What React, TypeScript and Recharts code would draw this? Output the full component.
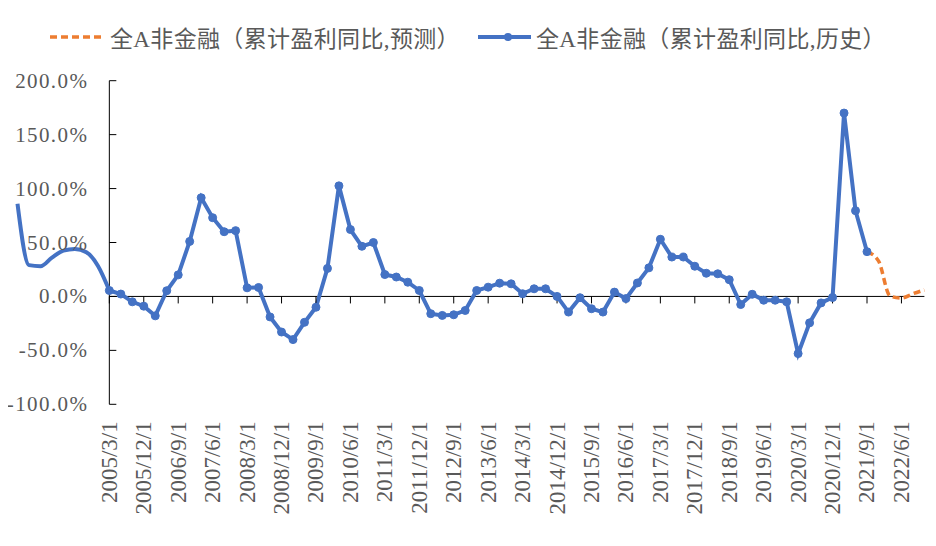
import { Legend, Line, LineChart, ReferenceDot, ReferenceLine, XAxis, YAxis } from 'recharts'

const quarters = [
  '2003/3/1', '2003/6/1', '2003/9/1', '2003/12/1',
  '2004/3/1', '2004/6/1', '2004/9/1', '2004/12/1',
  '2005/3/1', '2005/6/1', '2005/9/1', '2005/12/1',
  '2006/3/1', '2006/6/1', '2006/9/1', '2006/12/1',
  '2007/3/1', '2007/6/1', '2007/9/1', '2007/12/1',
  '2008/3/1', '2008/6/1', '2008/9/1', '2008/12/1',
  '2009/3/1', '2009/6/1', '2009/9/1', '2009/12/1',
  '2010/3/1', '2010/6/1', '2010/9/1', '2010/12/1',
  '2011/3/1', '2011/6/1', '2011/9/1', '2011/12/1',
  '2012/3/1', '2012/6/1', '2012/9/1', '2012/12/1',
  '2013/3/1', '2013/6/1', '2013/9/1', '2013/12/1',
  '2014/3/1', '2014/6/1', '2014/9/1', '2014/12/1',
  '2015/3/1', '2015/6/1', '2015/9/1', '2015/12/1',
  '2016/3/1', '2016/6/1', '2016/9/1', '2016/12/1',
  '2017/3/1', '2017/6/1', '2017/9/1', '2017/12/1',
  '2018/3/1', '2018/6/1', '2018/9/1', '2018/12/1',
  '2019/3/1', '2019/6/1', '2019/9/1', '2019/12/1',
  '2020/3/1', '2020/6/1', '2020/9/1', '2020/12/1',
  '2021/3/1', '2021/6/1', '2021/9/1', '2021/12/1',
  '2022/3/1', '2022/6/1', '2022/9/1', '2022/12/1',
]

const tickDates = [
  '2005/3/1', '2005/12/1', '2006/9/1', '2007/6/1', '2008/3/1', '2008/12/1',
  '2009/9/1', '2010/6/1', '2011/3/1', '2011/12/1', '2012/9/1', '2013/6/1',
  '2014/3/1', '2014/12/1', '2015/9/1', '2016/6/1', '2017/3/1', '2017/12/1',
  '2018/9/1', '2019/6/1', '2020/3/1', '2020/12/1', '2021/9/1', '2022/6/1',
]

const yTicks = [-100, -50, 0, 50, 100, 150, 200]

// 2003/3 - 2005/3, drawn left of the value axis, no markers
const earlyProfit = [86, 29, 28, 36, 42.5, 44, 41, 28.5, 5.5]

// 2005/3 - 2021/9
const historyProfit = [
  5.5, 2.2, -5, -9, -18, 5.3, 20, 51, 91.5, 73, 60, 61,
  8, 8.3, -19, -33, -40, -24, -10, 26, 102.5, 62, 46.5, 50,
  20.3, 18, 13.2, 5.5, -16, -17.6, -17, -13, 5.5, 8.6, 12.3, 11.7,
  2.5, 7.1, 7.1, 0, -14.5, -1.2, -11.4, -14.5, 4, -2, 12.5, 26.5,
  53, 36.5, 36.5, 28, 21.5, 21, 15.5, -7.5, 2, -3.5, -3.5, -5,
  -53, -24.5, -6, -1, 170, 79.5, 41.5,
]

// 2021/9 - 2022/12
const forecastProfit = [41.5, 33, 0.5, -1.5, 2.5, 6]

const forecastName = '全A非金融（累计盈利同比,预测）'
const historyName = '全A非金融（累计盈利同比,历史）'

const BLUE = '#4472C4'
const ORANGE = '#ED7D31'
const GREY = '#595959'
const SERIF = "'Liberation Serif', 'Times New Roman', serif"

const earlyStart = quarters.indexOf('2003/3/1')
const historyStart = quarters.indexOf('2005/3/1')
const forecastStart = quarters.indexOf('2021/9/1')

const rows = quarters.map((date, i) => ({
  date,
  early: earlyProfit[i - earlyStart] ?? null,
  history: historyProfit[i - historyStart] ?? null,
  forecast: forecastProfit[i - forecastStart] ?? null,
}))

const axisDate = quarters[historyStart]
const lastDate = quarters[quarters.length - 1]

const pct = (v: number) => `${v.toFixed(1)}%`

function DateTick({ x, y, payload }: any) {
  return (
    <text
      x={x}
      y={y}
      transform={`rotate(-90, ${x}, ${y})`}
      textAnchor="end"
      dominantBaseline="central"
      fontSize={23}
      fontFamily={SERIF}
      fill={GREY}
    >
      {payload.value}
    </text>
  )
}

function ValueTick({ cx, cy, value }: any) {
  return (
    <g>
      <line x1={cx} y1={cy} x2={cx + 7} y2={cy} stroke="#000" strokeWidth={1} />
      <text
        x={cx - 21}
        y={cy}
        textAnchor="end"
        dominantBaseline="central"
        fontSize={21}
        letterSpacing={1.4}
        fontFamily={SERIF}
        fill={GREY}
      >
        {pct(value)}
      </text>
    </g>
  )
}

function CategoryTickMark({ cx, cy }: any) {
  return <line x1={cx} y1={cy} x2={cx} y2={cy + 7} stroke="#000" strokeWidth={1} />
}

function LegendContent() {
  return (
    <div
      style={{
        display: 'flex',
        alignItems: 'center',
        height: 30,
        fontFamily: "'Liberation Serif', 'Noto Sans CJK SC', sans-serif",
        fontSize: 23,
        letterSpacing: 0.35,
        color: GREY,
        whiteSpace: 'nowrap',
      }}
    >
      <svg width={53} height={10}>
        <line x1={0} y1={5} x2={53} y2={5} stroke={ORANGE} strokeWidth={3.5} strokeDasharray="7 4" />
      </svg>
      <span style={{ marginLeft: 7 }}>{forecastName}</span>
      <svg width={53} height={10} style={{ marginLeft: 18 }}>
        <line x1={0} y1={5} x2={53} y2={5} stroke={BLUE} strokeWidth={4} />
        <circle cx={30} cy={5} r={4} fill={BLUE} />
      </svg>
      <span style={{ marginLeft: 5 }}>{historyName}</span>
    </div>
  )
}

export default function App() {
  return (
    <LineChart
      width={928}
      height={538}
      data={rows}
      margin={{ top: 72.7, right: 11.6, bottom: 21.7, left: 9.5 }}
    >
      <XAxis
        dataKey="date"
        scale="point"
        ticks={tickDates}
        interval={0}
        tick={<DateTick />}
        tickLine={false}
        axisLine={false}
        tickSize={0}
        tickMargin={17}
        height={120}
      />
      <YAxis hide type="number" domain={[-100, 200]} ticks={yTicks} />
      <ReferenceLine x={axisDate} stroke="#000" strokeWidth={1} ifOverflow="visible" />
      <ReferenceLine
        segment={[{ x: axisDate, y: 0 }, { x: lastDate, y: 0 }]}
        stroke="#000"
        strokeWidth={1}
        ifOverflow="visible"
      />
      {tickDates.map((d) => (
        <ReferenceDot key={d} x={d} y={0} r={0} ifOverflow="visible" shape={(p: any) => <CategoryTickMark {...p} />} />
      ))}
      {yTicks.map((v) => (
        <ReferenceDot key={v} x={axisDate} y={v} r={0} ifOverflow="visible" shape={(p: any) => <ValueTick {...p} value={v} />} />
      ))}
      <Legend
        layout="horizontal"
        verticalAlign="middle"
        align="center"
        wrapperStyle={{ top: 14, left: 42, width: 'auto' }}
        content={() => <LegendContent />}
      />
      <Line
        dataKey="early"
        type="monotone"
        stroke={BLUE}
        strokeWidth={4}
        dot={false}
        activeDot={false}
        legendType="none"
        isAnimationActive={false}
      />
      <Line
        dataKey="forecast"
        name={forecastName}
        type="monotone"
        stroke={ORANGE}
        strokeWidth={3.5}
        strokeDasharray="7 4"
        dot={false}
        activeDot={false}
        isAnimationActive={false}
      />
      <Line
        dataKey="history"
        name={historyName}
        type="linear"
        stroke={BLUE}
        strokeWidth={4}
        dot={{ r: 4, fill: BLUE, stroke: BLUE, strokeWidth: 1 }}
        activeDot={false}
        isAnimationActive={false}
      />
    </LineChart>
  )
}
